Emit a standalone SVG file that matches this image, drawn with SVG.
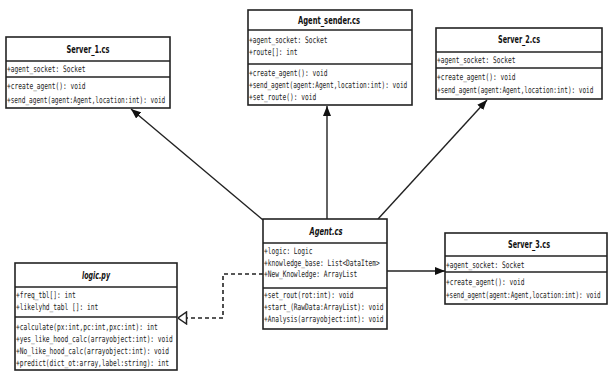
<svg xmlns="http://www.w3.org/2000/svg" width="609" height="373" viewBox="0 0 609 373">
<style>
.box{fill:#fff;stroke:#222;stroke-width:1.6}
.sep{stroke:#222;stroke-width:1.4}
.t{font-family:"DejaVu Sans Mono","Liberation Mono",monospace;font-size:9px;fill:#222}
.h{font-family:"DejaVu Sans","Liberation Sans",sans-serif;font-size:11px;font-weight:bold;fill:#111;text-anchor:middle}
.hi{font-style:italic}
.c{stroke:#222;stroke-width:1.4;fill:none}
.d{stroke:#222;stroke-width:1.6;fill:none;stroke-dasharray:4,3}
</style>
<defs>
<marker id="arr" viewBox="0 0 10 8" refX="10" refY="4" markerWidth="10" markerHeight="8" markerUnits="userSpaceOnUse" orient="auto">
<path d="M0,0 L10,4 L0,8 z" fill="#111"/>
</marker>
<marker id="tri" viewBox="0 0 10 14" refX="9.5" refY="7" markerWidth="10" markerHeight="14" markerUnits="userSpaceOnUse" orient="auto">
<path d="M1,1 L9.5,7 L1,13 z" fill="#fff" stroke="#222" stroke-width="1.5"/>
</marker>
</defs>

<g id="connectors">
<line class="c" x1="263" y1="220" x2="131" y2="109" marker-end="url(#arr)"/>
<line class="c" x1="327" y1="219" x2="327" y2="106" marker-end="url(#arr)"/>
<line class="c" x1="378" y1="219" x2="487" y2="100" marker-end="url(#arr)"/>
<line class="c" x1="387" y1="271" x2="445" y2="271" marker-end="url(#arr)"/>
<polyline class="d" points="263,274 223,274 223,318 178,318" marker-end="url(#tri)"/>
</g>

<g id="server1">
<rect class="box" x="6" y="37" width="164" height="71"/>
<line class="sep" x1="6" y1="61" x2="170" y2="61"/>
<line class="sep" x1="6" y1="77" x2="170" y2="77"/>
<text class="h" x="88" y="53" textLength="43" lengthAdjust="spacingAndGlyphs">Server_1.cs</text>
<text class="t" transform="translate(7,72) scale(0.69,1)">+agent_socket: Socket</text>
<text class="t" transform="translate(7,89) scale(0.69,1)">+create_agent(): void</text>
<text class="t" transform="translate(7,103) scale(0.68,1)">+send_agent(agent:Agent,location:int): void</text>
</g>

<g id="agent_sender">
<rect class="box" x="248" y="10" width="164" height="95"/>
<line class="sep" x1="248" y1="30" x2="412" y2="30"/>
<line class="sep" x1="248" y1="64" x2="412" y2="64"/>
<text class="h" x="329" y="24" textLength="62" lengthAdjust="spacingAndGlyphs">Agent_sender.cs</text>
<text class="t" transform="translate(249,43) scale(0.69,1)">+agent_socket: Socket</text>
<text class="t" transform="translate(249,55) scale(0.69,1)">+route[]: int</text>
<text class="t" transform="translate(249,76) scale(0.69,1)">+create_agent(): void</text>
<text class="t" transform="translate(249,88) scale(0.68,1)">+send_agent(agent:Agent,location:int): void</text>
<text class="t" transform="translate(249,100) scale(0.69,1)">+set_route(): void</text>
</g>

<g id="server2">
<rect class="box" x="436" y="28" width="166" height="71"/>
<line class="sep" x1="436" y1="52" x2="602" y2="52"/>
<line class="sep" x1="436" y1="68" x2="602" y2="68"/>
<text class="h" x="519" y="43" textLength="42" lengthAdjust="spacingAndGlyphs">Server_2.cs</text>
<text class="t" transform="translate(437,63) scale(0.69,1)">+agent_socket: Socket</text>
<text class="t" transform="translate(437,80) scale(0.69,1)">+create_agent(): void</text>
<text class="t" transform="translate(437,93) scale(0.672,1)">+send_agent(agent:Agent,location:int): void</text>
</g>

<g id="agent">
<rect class="box" x="263" y="219" width="124" height="110"/>
<line class="sep" x1="263" y1="243" x2="387" y2="243"/>
<line class="sep" x1="263" y1="288" x2="387" y2="288"/>
<text class="h hi" x="326" y="235" textLength="33" lengthAdjust="spacingAndGlyphs">Agent.cs</text>
<text class="t" transform="translate(264,254) scale(0.69,1)">+logic: Logic</text>
<text class="t" transform="translate(264,266) scale(0.69,1)">+knowledge_base: List&lt;DataItem&gt;</text>
<text class="t" transform="translate(264,277) scale(0.69,1)">+New_Knowledge: ArrayList</text>
<text class="t" transform="translate(264,298) scale(0.69,1)">+set_rout(rot:int): void</text>
<text class="t" transform="translate(264,310) scale(0.69,1)">+start_(RawData:ArrayList): void</text>
<text class="t" transform="translate(264,322) scale(0.69,1)">+Analysis(arrayobject:int): void</text>
</g>

<g id="server3">
<rect class="box" x="445" y="233" width="162" height="71"/>
<line class="sep" x1="445" y1="256" x2="607" y2="256"/>
<line class="sep" x1="445" y1="272" x2="607" y2="272"/>
<text class="h" x="529" y="248" textLength="42" lengthAdjust="spacingAndGlyphs">Server_3.cs</text>
<text class="t" transform="translate(446,268) scale(0.69,1)">+agent_socket: Socket</text>
<text class="t" transform="translate(446,285) scale(0.69,1)">+create_agent(): void</text>
<text class="t" transform="translate(446,298) scale(0.665,1)">+send_agent(agent:Agent,location:int): void</text>
</g>

<g id="logic">
<rect class="box" x="15" y="263" width="162" height="107"/>
<line class="sep" x1="15" y1="287" x2="177" y2="287"/>
<line class="sep" x1="15" y1="317" x2="177" y2="317"/>
<text class="h hi" x="96" y="279" textLength="28" lengthAdjust="spacingAndGlyphs">logic.py</text>
<text class="t" transform="translate(16,298) scale(0.69,1)">+freq_tbl[]: int</text>
<text class="t" transform="translate(16,310) scale(0.69,1)">+likelyhd_tabl []: int</text>
<text class="t" transform="translate(16,330) scale(0.69,1)">+calculate(px:int,pc:int,pxc:int): int</text>
<text class="t" transform="translate(16,342) scale(0.69,1)">+yes_like_hood_calc(arrayobject:int): void</text>
<text class="t" transform="translate(16,354) scale(0.69,1)">+No_like_hood_calc(arrayobject:int): void</text>
<text class="t" transform="translate(16,366) scale(0.69,1)">+predict(dict_ot:array,label:string): int</text>
</g>
</svg>
